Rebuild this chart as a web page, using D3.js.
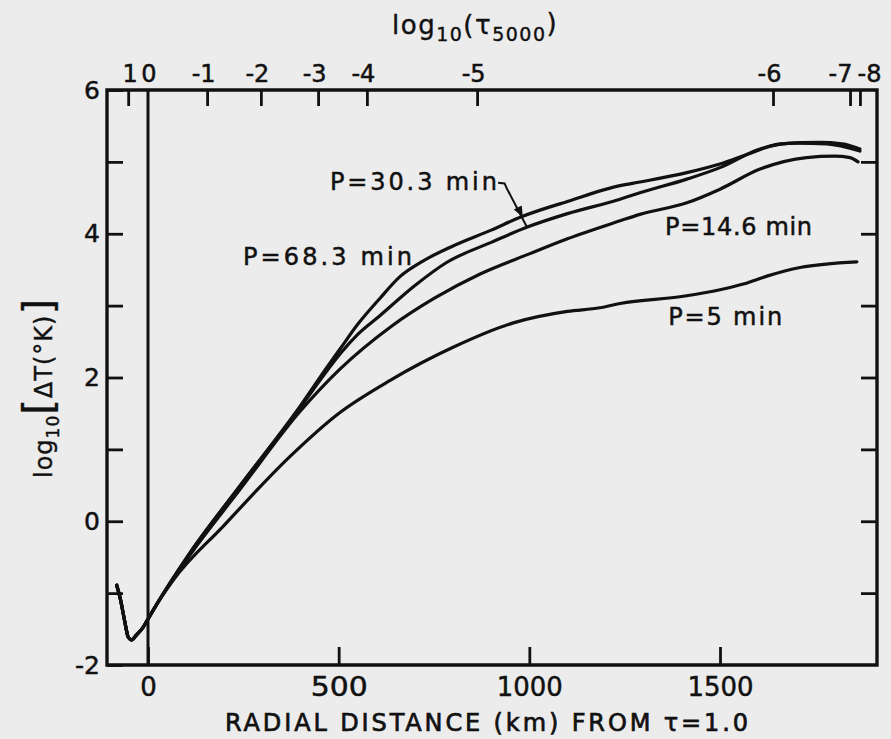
<!DOCTYPE html>
<html>
<head>
<meta charset="utf-8">
<script src="https://cdn.jsdelivr.net/npm/d3@7"></script>
<style>
  html, body { margin: 0; padding: 0; background: #ececec; }
  svg { display: block; }
  text { font-family: "DejaVu Sans", "Noto Sans", sans-serif; fill: #111; }
</style>
</head>
<body>
<svg id="chart" width="891" height="739"></svg>
<script>
// ---------------- DATA ----------------
const dipKm  = [-82, -73, -60, -52, -43, -30, -12, 0, 20];
const dipVal = [-0.89, -1.07, -1.42, -1.61, -1.65, -1.58, -1.47, -1.36, -1.18];

const p683Km  = [110, 241, 399, 469, 504, 550, 608, 660, 721, 800, 900, 976, 1100, 1238, 1290, 1413, 1500, 1580, 1658, 1762, 1820, 1867];
const p683Val = [-0.44, 0.49, 1.60, 2.14, 2.40, 2.74, 3.10, 3.40, 3.62, 3.83, 4.05, 4.23, 4.45, 4.67, 4.72, 4.85, 4.97, 5.12, 5.25, 5.27, 5.25, 5.18];

const p303Km  = [110, 241, 399, 469, 504, 550, 608, 700, 783, 900, 993, 1100, 1238, 1290, 1413, 1500, 1605, 1700, 1780, 1867];
const p303Val = [-0.44, 0.49, 1.58, 2.09, 2.33, 2.60, 2.86, 3.28, 3.60, 3.88, 4.09, 4.28, 4.48, 4.57, 4.76, 4.92, 5.18, 5.26, 5.25, 5.15];

const p146Km  = [110, 241, 399, 504, 635, 750, 871, 1000, 1100, 1238, 1290, 1413, 1500, 1605, 1727, 1800, 1841, 1862];
const p146Val = [-0.47, 0.44, 1.53, 2.12, 2.70, 3.10, 3.44, 3.72, 3.93, 4.18, 4.27, 4.43, 4.62, 4.90, 5.06, 5.08, 5.06, 5.00];

const p5Km  = [66, 197, 372, 500, 635, 800, 958, 1100, 1185, 1238, 1404, 1500, 1561, 1623, 1710, 1859];
const p5Val = [-0.82, -0.07, 0.90, 1.50, 1.96, 2.42, 2.76, 2.92, 2.97, 3.03, 3.13, 3.22, 3.30, 3.41, 3.53, 3.61];

const seriesNames = ["P=68.3 min", "P=30.3 min", "P=14.6 min", "P=5 min"];

const xTicks = [0, 500, 1000, 1500];
const yTicks = [-2, -1, 0, 1, 2, 3, 4, 5, 6];
const yLabelled = [-2, 0, 2, 4, 6];
const tauLabels = ["1", "0", "-1", "-2", "-3", "-4", "-5", "-6", "-7", "-8"];
const tauKm     = [-52, 0, 155, 296, 446, 574, 863, 1639, 1841, 1867];

// ---------------- LAYOUT ----------------
const box = { left: 107, right: 877, top: 90, bottom: 665 };
const ink = "#111";
const svg = d3.select("#chart");

svg.append("rect").attr("x", 0).attr("y", 0).attr("width", 891).attr("height", 739).attr("fill", "#ececec");

const x = d3.scaleLinear().domain([0, 1500]).range([148, 720]);
const y = d3.scaleLinear().domain([-2, 6]).range([box.bottom, box.top]);

function styleAxis(g) {
  g.select(".domain").remove();
  g.selectAll(".tick line").attr("stroke", ink).attr("stroke-width", 2.8);
  g.selectAll(".tick text").attr("fill", ink)
    .style("font-family", '"DejaVu Sans", sans-serif')
    .style("stroke", ink).style("stroke-width", 0.5);
}

const gB = svg.append("g").attr("transform", `translate(0,${box.bottom})`)
  .call(d3.axisBottom(x).tickValues(xTicks).tickSize(-18).tickPadding(13).tickFormat(d3.format("d")));
styleAxis(gB);
gB.selectAll(".tick text").style("font-size", "26px")
  .attr("textLength", d => d === 0 ? null : (d === 500 ? 57 : 66)).attr("lengthAdjust", "spacingAndGlyphs");

const gL = svg.append("g").attr("transform", `translate(${box.left},0)`)
  .call(d3.axisLeft(y).tickValues(yTicks).tickSize(-16).tickPadding(7)
    .tickFormat(d => yLabelled.includes(d) ? (d < 0 ? "-" + Math.abs(d) : String(d)) : ""));
styleAxis(gL);
gL.selectAll(".tick text").style("font-size", "25px");

const gR = svg.append("g").attr("transform", `translate(${box.right},0)`)
  .call(d3.axisRight(y).tickValues(yTicks.filter(d => d > -2 && d < 6)).tickSize(-16).tickFormat(""));
styleAxis(gR);

const gT = svg.append("g").attr("transform", `translate(0,${box.top})`)
  .call(d3.axisTop(x).tickValues(tauKm).tickSize(-16).tickPadding(8)
    .tickFormat((d, i) => tauLabels[i]));
styleAxis(gT);
const tauNudge = { "-7": -6, "-8": 13, "1": 1, "0": 0 };
gT.selectAll(".tick text")
  .style("font-size", "24px")
  .attr("text-anchor", "end")
  .attr("dx", (d, i) => (8 + (tauNudge[tauLabels[i]] || 0)) + "px");
gT.selectAll(".tick line").filter(d => d === 0).remove();

// ---------------- CURVES ----------------
const line = d3.line().x(d => x(d[0])).y(d => y(d[1])).curve(d3.curveMonotoneX);
function build(km, val) {
  const pts = dipKm.map((k, i) => [k, dipVal[i]]);
  km.forEach((k, i) => pts.push([k, val[i]]));
  return pts;
}
const series = [
  build(p683Km, p683Val),
  build(p303Km, p303Val),
  build(p146Km, p146Val),
  build(p5Km, p5Val)
];
svg.append("g").selectAll("path").data(series).join("path")
  .attr("d", line).attr("fill", "none").attr("stroke", ink)
  .attr("stroke-width", 3.2).attr("stroke-linejoin", "round").attr("stroke-linecap", "round");

// ---------------- ANNOTATIONS ----------------
const annot = [
  { text: seriesNames[1], km: 477, v: 4.61, w: 167 },
  { text: seriesNames[0], km: 249, v: 3.57, w: 169 },
  { text: seriesNames[2], km: 1356, v: 3.98, w: 147 },
  { text: seriesNames[3], km: 1364, v: 2.73, w: 114 }
];
svg.append("g").selectAll("text").data(annot).join("text")
  .attr("x", d => x(d.km)).attr("y", d => y(d.v))
  .attr("textLength", d => d.w).attr("lengthAdjust", "spacing")
  .style("font-size", "24px").style("stroke", ink).style("stroke-width", 0.5)
  .text(d => d.text);

const leader = [[918, 4.71], [935, 4.70], [941, 4.63], [994, 4.09]];
svg.append("path")
  .attr("d", d3.line().x(d => x(d[0])).y(d => y(d[1])).curve(d3.curveLinear)(leader))
  .attr("fill", "none").attr("stroke", ink).attr("stroke-width", 2);
{
  const tip = [x(983), y(4.23)];
  const ang = Math.atan2(y(4.09) - y(4.63), x(994) - x(941));
  const len = 11, half = 4.5;
  const bx = tip[0] - len * Math.cos(ang), by = tip[1] - len * Math.sin(ang);
  const px = -Math.sin(ang) * half, py = Math.cos(ang) * half;
  svg.append("path")
    .attr("d", `M${tip[0]},${tip[1]}L${bx + px},${by + py}L${bx - px},${by - py}Z`)
    .attr("fill", ink);
}

// ---------------- TITLES ----------------
const tt = svg.append("text").attr("x", 392).attr("y", 34)
  .style("font-size", "26px").style("letter-spacing", "1.5px")
  .style("stroke", ink).style("stroke-width", 0.4);
tt.append("tspan").text("log");
tt.append("tspan").attr("dy", 7).style("font-size", "19px").text("10");
tt.append("tspan").attr("dy", -7).text("(");
tt.append("tspan").text("τ");
tt.append("tspan").attr("dy", 7).style("font-size", "19px").text("5000");
tt.append("tspan").attr("dy", -9).text(")");

svg.append("text").attr("x", 225).attr("y", 731)
  .attr("textLength", 523).attr("lengthAdjust", "spacing")
  .style("font-size", "24px").style("stroke", ink).style("stroke-width", 0.7)
  .text("RADIAL DISTANCE (km) FROM τ=1.0");

const yt = svg.append("text")
  .attr("transform", "translate(52,478) rotate(-90)")
  .style("font-size", "24px").style("letter-spacing", "1px")
  .style("stroke", ink).style("stroke-width", 0.4);
yt.append("tspan").text("log");
yt.append("tspan").attr("dy", 7).style("font-size", "17px").text("10");
yt.append("tspan").attr("dy", -7).style("font-size", "40px").text("[");
yt.append("tspan").style("font-size", "24px").text("ΔT(°K)");
yt.append("tspan").style("font-size", "40px").text("]");

// ---------------- FRAME (last, on top) ----------------
svg.append("path")
  .attr("d", `M${box.left},${box.top}H${box.right}V${box.bottom}H${box.left}Z`)
  .attr("fill", "none").attr("stroke", ink).attr("stroke-width", 3.4)
  .attr("stroke-linejoin", "miter");
svg.append("path")
  .attr("d", `M${x(0)},${box.top}V${box.bottom}`)
  .attr("fill", "none").attr("stroke", ink).attr("stroke-width", 3);
</script>
</body>
</html>
